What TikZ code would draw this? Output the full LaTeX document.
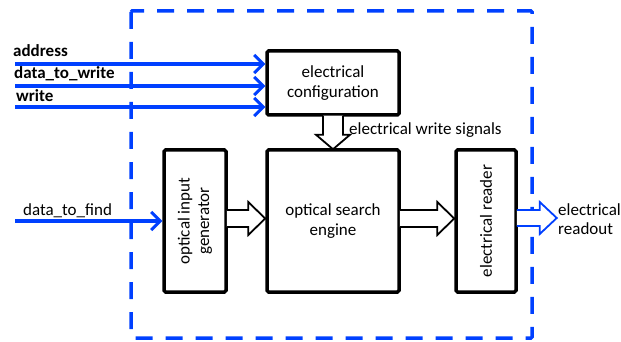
\documentclass[tikz,border=0pt]{standalone}
\usepackage{fontspec}
\setmainfont{Carlito}
\usetikzlibrary{arrows.meta,calc}
\definecolor{bl}{RGB}{0,64,255}
\begin{document}
\begin{tikzpicture}[x=1pt,y=-1pt,
  txt/.style={font=\fontsize{17}{19.5}\selectfont},
  blk/.style={draw=black,line width=3.5pt,rounded corners=1.5pt,fill=white,align=center,inner sep=0pt,txt},
  inarrow/.style={draw=bl,line width=3.5pt,-{Straight Barb[length=9pt,width=18pt,line width=3pt]}},
  hollow/.style={draw=black,line width=1.8pt,fill=white,line join=miter},
  hollowb/.style={draw=bl,line width=1.8pt,fill=white,line join=miter},
  lab/.style={txt,inner sep=0pt,anchor=base west},
  frame/.style={draw=bl,line width=3.5pt,dash pattern=on 17pt off 13pt,rounded corners=1pt}]
\useasboundingbox (0,0) rectangle (621,342);
\draw[frame] (131,11) rectangle (532,338);
% blocks
\node[blk,minimum width=132pt,minimum height=64pt] (cfg) at (333,83) {electrical\\configuration};
\node[blk,minimum width=62pt,minimum height=142pt] (gen) at (195,221) {};
\node[blk,minimum width=132pt,minimum height=142pt] (eng) at (333,221) {optical search\\engine};
\node[blk,minimum width=60pt,minimum height=142pt] (rdr) at (486,221) {};
\node[txt,rotate=90,align=center,inner sep=0pt] (gentxt) at (gen.center) {optical input\\generator};
\node[txt,rotate=90,inner sep=0pt] (rdrtxt) at (rdr.center) {electrical reader};
% input arrows
\coordinate (s1) at (15,64);
\coordinate (s2) at (15,86);
\coordinate (s3) at (15,107);
\coordinate (s4) at (15,221);
\draw[inarrow] (s1) -- (s1 -| cfg.west);
\draw[inarrow] (s2) -- (s2 -| cfg.west);
\draw[inarrow] (s3) -- (s3 -| cfg.west);
\draw[inarrow] (s4) -- (s4 -| gen.west);
\node[lab,font=\fontsize{17}{19.5}\selectfont\bfseries] (l1) at (13,57) {address};
\node[lab,font=\fontsize{17}{19.5}\selectfont\bfseries] (l2) at (14,79) {data\_to\_write};
\node[lab,font=\fontsize{17}{19.5}\selectfont\bfseries] (l3) at (16,102) {write};
\node[lab] (l4) at (23,215) {data\_to\_find};
% hollow arrows
\draw[hollow] ($(cfg.south)+(-10,-1)$) -- ($(cfg.south)+(-10,18)$) -- ($(cfg.south)+(-17,18)$)
  -- ($(eng.north)+(0,1)$) -- ($(cfg.south)+(17,18)$) -- ($(cfg.south)+(10,18)$) -- ($(cfg.south)+(10,-1)$);
\node[lab] (ews) at (349,135) {electrical write signals};
\draw[hollow] ($(gen.east)+(-1,-11)$) -- ($(eng.west)+(-17,-11)$) -- ($(eng.west)+(-17,-19)$)
  -- ($(eng.west)+(0,-2.5)$) -- ($(eng.west)+(-17,14)$) -- ($(eng.west)+(-17,6)$) -- ($(gen.east)+(-1,6)$);
\draw[hollow] ($(eng.east)+(-1,-11)$) -- ($(rdr.west)+(-17,-11)$) -- ($(rdr.west)+(-17,-19)$)
  -- ($(rdr.west)+(0,-2.5)$) -- ($(rdr.west)+(-17,14)$) -- ($(rdr.west)+(-17,6)$) -- ($(eng.east)+(-1,6)$);
\draw[hollowb] ($(rdr.east)+(-1,-11)$) -- ($(rdr.east)+(22,-11)$) -- ($(rdr.east)+(22,-19)$)
  -- ($(rdr.east)+(39,-3)$) -- ($(rdr.east)+(22,13)$) -- ($(rdr.east)+(22,5)$) -- ($(rdr.east)+(-1,5)$);
\node[txt,anchor=west,align=left,inner sep=0pt] (ro) at (558,219) {electrical\\readout};
\end{tikzpicture}
\end{document}
